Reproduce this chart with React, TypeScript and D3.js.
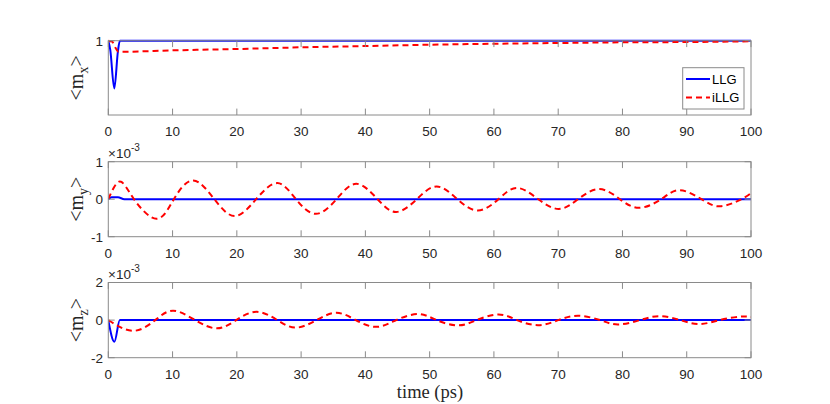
import React from "react";
import * as d3 from "d3";

// ---------- data ----------
const xTicks = [0, 10, 20, 30, 40, 50, 60, 70, 80, 90, 100];
const legendLabels = ["LLG", "iLLG"];

// <m_x>
const mxLLG_t = [0, 0.3, 0.93, 1.5, 1.8, 100];
const mxLLG_v = [1, 0.9988, 0.99357, 0.9986, 1, 1];
const mxILLG_t = [0, 0.6, 1.2, 1.6, 2, 10, 20, 30, 40, 50, 60, 70, 80, 90, 100];
const mxILLG_v = [1, 0.99986, 0.99892, 0.99851, 0.99851, 0.9987, 0.99888, 0.99911, 0.99928, 0.99946, 0.99959, 0.99969, 0.99978, 0.99982, 0.99992];
const mxDomain = [0.99, 1];
const mxTicks = [1];

// <m_y> (x 1e-3)
const myLLG_t = [0, 0.5, 1.5, 2.5, 100];
const myLLG_v = [0, 0.05, 0.05, 0, 0];
const myILLG_t = [0, 1.8, 4.0, 7.5, 10.2, 13.2, 16.5, 19.7, 23.0, 26.3, 29.2, 32.3, 35.5, 38.6, 41.9, 44.8, 48.0, 51.1, 54.3, 57.5, 60.7, 63.6, 66.9, 70.1, 73.1, 76.4, 79.6, 82.6, 86.0, 88.9, 92.3, 95.2, 98.5, 100];
const myILLG_v = [0, 0.47, 0, -0.52, 0, 0.5, 0, -0.45, 0, 0.43, 0, -0.39, 0, 0.41, 0, -0.34, 0, 0.34, 0, -0.3, 0, 0.3, 0, -0.26, 0, 0.27, 0, -0.23, 0, 0.24, 0, -0.19, 0, 0.16];
const myDomain = [-1, 1];
const myTicks = [-1, 0, 1];

// <m_z> (x 1e-3)
const mzLLG_t = [0, 0.95, 1.8, 100];
const mzLLG_v = [0, -1.15, 0, 0];
const mzILLG_t = [0, 3.9, 7.3, 10.1, 13.5, 16.9, 19.9, 23.1, 26.3, 29.2, 32.4, 35.5, 38.5, 41.7, 44.8, 48.2, 51.1, 54.4, 57.3, 60.7, 63.6, 66.9, 70.0, 73.1, 76.5, 79.3, 82.7, 85.8, 89.0, 92.0, 95.1, 98.2, 100];
const mzILLG_v = [0, -0.57, 0, 0.5, 0, -0.44, 0, 0.44, 0, -0.4, 0, 0.39, 0, -0.36, 0, 0.32, 0, -0.28, 0, 0.3, 0, -0.27, 0, 0.23, 0, -0.23, 0, 0.21, 0, -0.21, 0, 0.18, 0.17];
const mzDomain = [-2, 2];
const mzTicks = [-2, 0, 2];

// ---------- layout ----------
const W = 830;
const H = 404;
const X0 = 108.3;
const X1 = 751;
const AXC = "#262626";
const FRAME = "#8a8a8a";
const TICKLEN = 6.4;
const SANS = "'Liberation Sans', Arial, Helvetica, sans-serif";
const SERIF = "'Liberation Serif', 'Times New Roman', serif";

const x = d3.scaleLinear().domain([0, 100]).range([X0, X1]);

type PanelProps = {
  id: string;
  top: number;
  bottom: number;
  domain: number[];
  ticks: number[];
  sub: string;
  llgT: number[];
  llgV: number[];
  illgT: number[];
  illgV: number[];
  exponent: boolean;
  legend: boolean;
  smooth: boolean;
};

function Panel(p: PanelProps) {
  const y = d3.scaleLinear().domain(p.domain).range([p.bottom, p.top]);
  const mkLine = (curve: d3.CurveFactory) =>
    d3
      .line<[number, number]>()
      .x((d) => x(d[0]))
      .y((d) => y(d[1]))
      .curve(curve);
  const llg = mkLine(d3.curveMonotoneX)(p.llgT.map((t, i) => [t, p.llgV[i]] as [number, number])) || "";
  const illg =
    mkLine(p.smooth ? d3.curveNatural : d3.curveMonotoneX)(
      p.illgT.map((t, i) => [t, p.illgV[i]] as [number, number])
    ) || "";
  const midY = (p.top + p.bottom) / 2;
  return (
    <g>
      <defs>
        <clipPath id={"clip-" + p.id}>
          <rect x={X0} y={p.top - 2} width={X1 - X0} height={p.bottom - p.top + 4} />
        </clipPath>
      </defs>
      <g clipPath={`url(#clip-${p.id})`}>
        <path d={llg} fill="none" stroke="#0000ff" strokeWidth={2} />
        <path d={illg} fill="none" stroke="#ff0000" strokeWidth={2} strokeDasharray="6,4" />
      </g>
      {/* frame */}
      <rect x={X0} y={p.top} width={X1 - X0} height={p.bottom - p.top} fill="none" stroke={FRAME} strokeWidth={1} />
      {/* x ticks */}
      {xTicks.map((t) => (
        <g key={"xt" + t}>
          <line x1={x(t)} x2={x(t)} y1={p.bottom} y2={p.bottom - TICKLEN} stroke={FRAME} strokeWidth={1} />
          <line x1={x(t)} x2={x(t)} y1={p.top} y2={p.top + TICKLEN} stroke={FRAME} strokeWidth={1} />
          <text x={x(t)} y={p.bottom + 21} textAnchor="middle" fontFamily={SANS} fontSize={13.5} fill={AXC}>
            {t}
          </text>
        </g>
      ))}
      {/* y ticks */}
      {p.ticks.map((t) => (
        <g key={"yt" + t}>
          <line x1={X0} x2={X0 + TICKLEN} y1={y(t)} y2={y(t)} stroke={FRAME} strokeWidth={1} />
          <line x1={X1} x2={X1 - TICKLEN} y1={y(t)} y2={y(t)} stroke={FRAME} strokeWidth={1} />
          <text x={103} y={y(t) + 4.8} textAnchor="end" fontFamily={SANS} fontSize={13.5} fill={AXC}>
            {t}
          </text>
        </g>
      ))}
      {p.exponent && (
        <text x={108} y={p.top - 3.5} fontFamily={SANS} fontSize={13.5} fill={AXC}>
          ×10
          <tspan dy={-7} fontSize={10}>-3</tspan>
        </text>
      )}
      {/* y label */}
      <text
        transform={`translate(83,${midY}) rotate(-90)`}
        textAnchor="middle"
        fontFamily={SERIF}
        fontSize={20}
        fill={AXC}
      >
        {"<m"}
        <tspan dy={4.5} fontSize={14}>{p.sub}</tspan>
        <tspan dy={-4.5}>{">"}</tspan>
      </text>
      {p.legend && (
        <g>
          <rect x={682.7} y={67.7} width={61.3} height={41.3} fill="#ffffff" stroke={FRAME} strokeWidth={1} />
          <line x1={686} x2={710} y1={79} y2={79} stroke="#0000ff" strokeWidth={2} />
          <text x={712} y={83.6} fontFamily={SANS} fontSize={13} fill="#000">
            {legendLabels[0]}
          </text>
          <line x1={686} x2={710} y1={97.5} y2={97.5} stroke="#ff0000" strokeWidth={2} strokeDasharray="6,4" />
          <text x={712} y={102.1} fontFamily={SANS} fontSize={13} fill="#000">
            {legendLabels[1]}
          </text>
        </g>
      )}
    </g>
  );
}

export default function App() {
  return (
    <div style={{ position: "fixed", left: 0, top: 0, width: W, height: H, background: "#fff" }}>
      <svg width={W} height={H} style={{ display: "block" }}>
        <rect x={0} y={0} width={W} height={H} fill="#fff" />
        <Panel id="mx" top={40.7} bottom={115} domain={mxDomain} ticks={mxTicks} sub="x"
          llgT={mxLLG_t} llgV={mxLLG_v} illgT={mxILLG_t} illgV={mxILLG_v} exponent={false} legend={true} smooth={false} />
        <Panel id="my" top={161.7} bottom={236.7} domain={myDomain} ticks={myTicks} sub="y"
          llgT={myLLG_t} llgV={myLLG_v} illgT={myILLG_t} illgV={myILLG_v} exponent={true} legend={false} smooth={true} />
        <Panel id="mz" top={282.5} bottom={357.7} domain={mzDomain} ticks={mzTicks} sub="z"
          llgT={mzLLG_t} llgV={mzLLG_v} illgT={mzILLG_t} illgV={mzILLG_v} exponent={true} legend={false} smooth={true} />
        <text x={430} y={398} textAnchor="middle" fontFamily={SERIF} fontSize={18.5} fill={AXC}>
          time (ps)
        </text>
      </svg>
    </div>
  );
}
